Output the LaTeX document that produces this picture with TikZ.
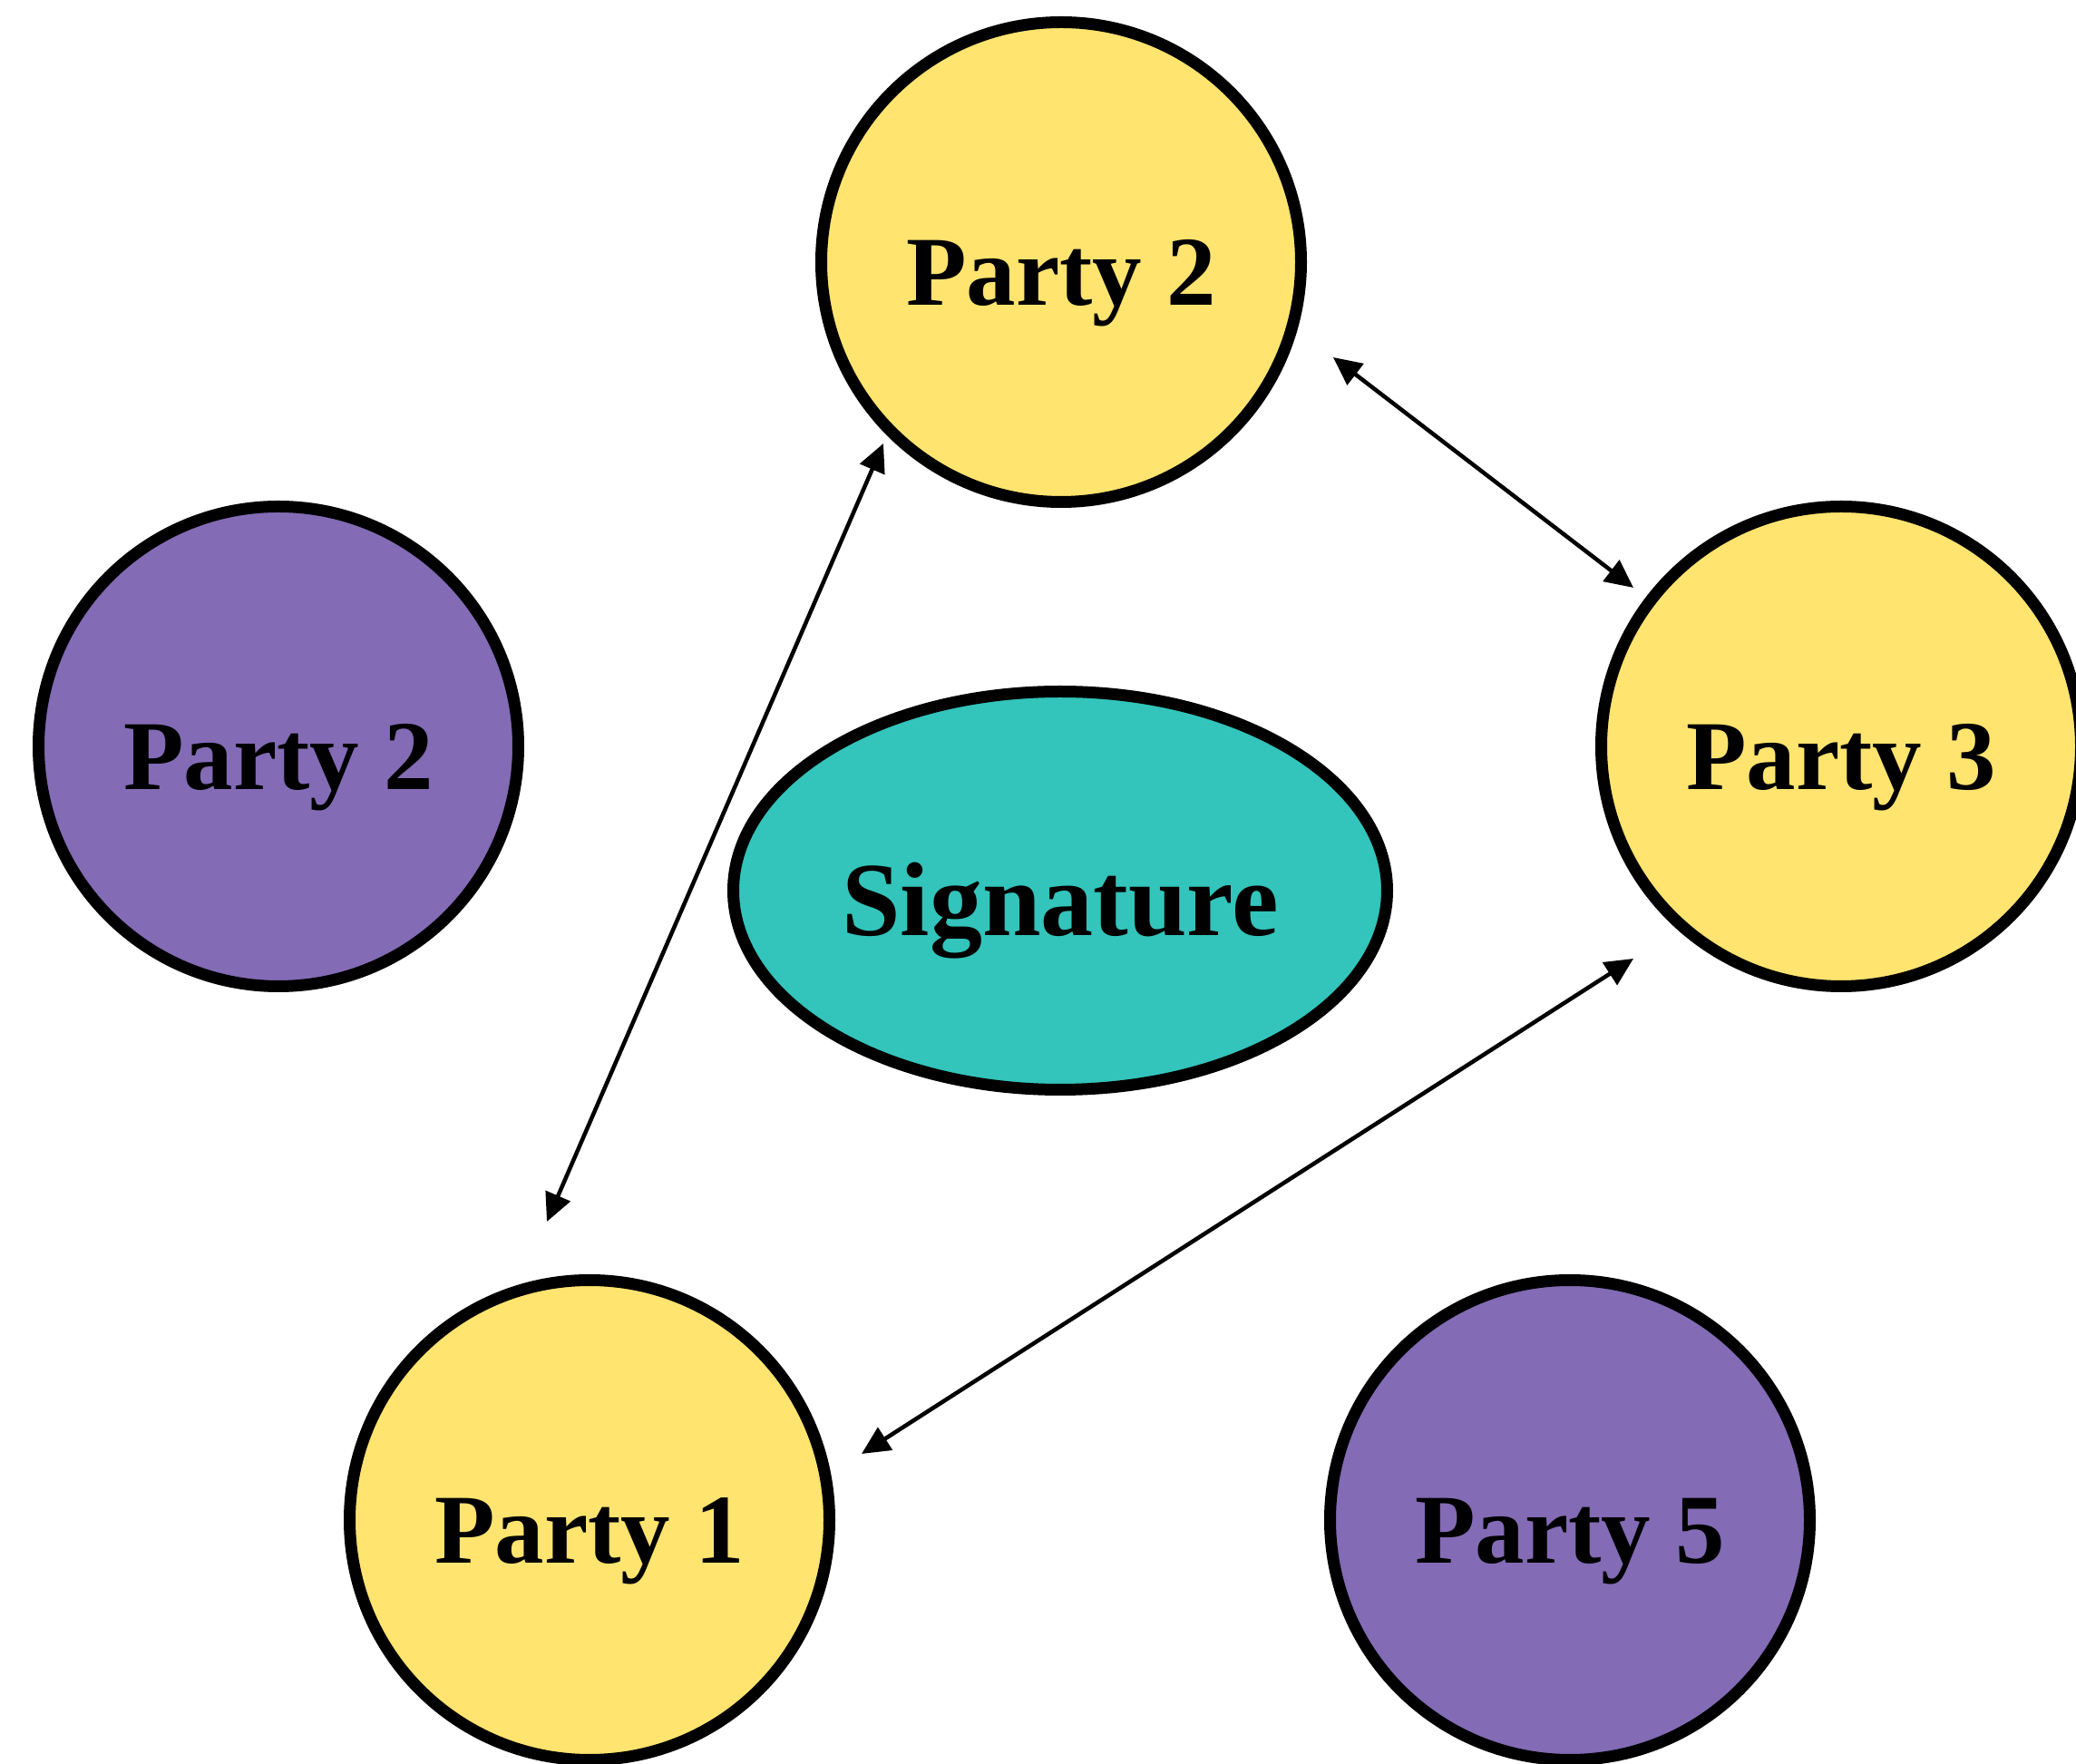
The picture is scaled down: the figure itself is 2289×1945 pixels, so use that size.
\documentclass[tikz,border=0pt]{standalone}
\usepackage{fontspec}
\setmainfont{Liberation Serif}
\usetikzlibrary{arrows.meta,shapes.geometric}
\definecolor{pyellow}{RGB}{255,228,112}
\definecolor{ppurple}{RGB}{131,107,181}
\definecolor{pteal}{RGB}{51,196,187}
\tikzset{
  party/.style={circle, draw=black, line width=1.3mm, minimum size=52.9mm, inner sep=0pt,
    font=\fontsize{31}{36}\selectfont\bfseries, text height=9.6mm, text depth=0pt},
  sig/.style={ellipse, draw=black, line width=1.3mm, fill=pteal, minimum width=72.1mm, minimum height=43.9mm, inner sep=0pt,
    font=\fontsize{33}{38}\selectfont\bfseries, text height=10mm, text depth=0pt},
  link/.style={line width=0.45mm, {Triangle[length=3.1mm,width=2.9mm]}-{Triangle[length=3.1mm,width=2.9mm]}}
}
\begin{document}
\begin{tikzpicture}[x=0.1mm,y=-0.1mm]
\useasboundingbox (0,0) rectangle (2289,1945);
\node[party, fill=pyellow] (p2top) at (1170,289) {Party 2};
\node[party, fill=ppurple] (p2left) at (307,823) {Party 2};
\node[party, fill=pyellow] (p3) at (2030,823) {Party 3};
\node[party, fill=pyellow] (p1) at (650,1676) {Party 1};
\node[party, fill=ppurple] (p5) at (1731,1676) {Party 5};
\node[sig] (sig) at (1169,982) {Signature};
\coordinate (a1) at (974,489);
\coordinate (a2) at (603,1347);
\coordinate (b1) at (1470,394);
\coordinate (b2) at (1801,648);
\coordinate (c1) at (1801,1057);
\coordinate (c2) at (950,1603);
\draw[link] (a1) -- (a2);
\draw[link] (b1) -- (b2);
\draw[link] (c1) -- (c2);
\end{tikzpicture}
\end{document}
